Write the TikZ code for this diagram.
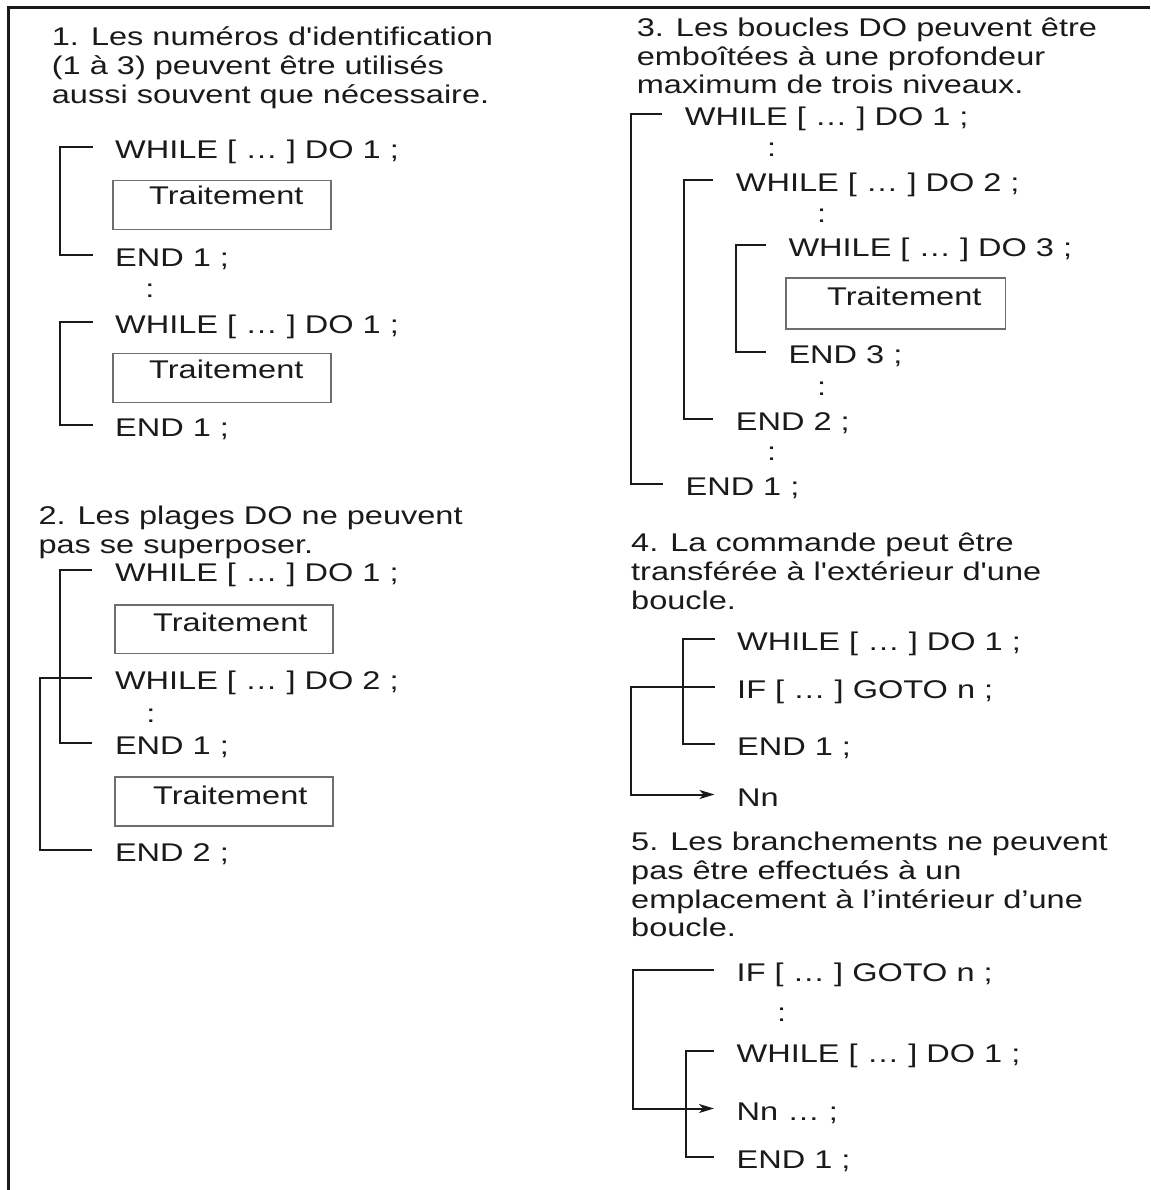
\documentclass[tikz,border=0pt]{standalone}
\usepackage{fontspec}
\setmainfont{Liberation Sans}[FakeStretch=1.27, Ligatures=TeXOff]
\usetikzlibrary{arrows.meta}
\definecolor{ink}{HTML}{1A1A1A}
\definecolor{boxgray}{HTML}{6E6E6E}
\newcommand\fsz{\fontsize{25.6}{28.7}\selectfont}
\tikzset{
  txt/.style={anchor=base west, inner sep=0pt, text=ink, font=\fsz},
  head/.style={txt, align=left},
  colon/.style={anchor=base, inner sep=0pt, text=ink, font=\fsz},
  tbox/.style={draw=boxgray, line width=1.5pt, anchor=north west, inner sep=0pt},
  brk/.style={draw=ink, line width=2pt},
  arr/.style={brk, -{Stealth[length=15pt,width=9pt,inset=4pt]}},
  bk/.style={shift={(-22.5pt,11.5pt)}},
  frame/.style={draw=ink, line width=3pt}
}
\begin{document}
\begin{tikzpicture}[x=1pt,y=-1pt]
\useasboundingbox (0,0) rectangle (1150,1190);
\fill[white] (0,0) rectangle (1150,1190);
\draw[frame] (1150,8) -- (8,8) -- (8,1190);

% ---------- Section 1 (heading anchored at its last baseline)
\node[head] (h1) at (51.7,103.3) {1. Les numéros d'identification\\(1 à 3) peuvent être utilisés\\aussi souvent que nécessaire.};
\node[txt] (s1w1) at (115,158.3) {WHILE [ … ] DO 1 ;};
\node[tbox, minimum width=218pt, minimum height=48.7pt] (s1b1) at (112,180) {};
\node[txt] (s1t1) at (149,205) {Traitement};
\node[txt] (s1e1) at (115,266.7) {END 1 ;};
\node[colon] (s1c1) at (150,297) {:};
\node[txt] (s1w2) at (115,333.3) {WHILE [ … ] DO 1 ;};
\node[tbox, minimum width=218pt, minimum height=49pt] (s1b2) at (112,352.7) {};
\node[txt] (s1t2) at (149,378.3) {Traitement};
\node[txt] (s1e2) at (115,436.7) {END 1 ;};
\draw[brk] ([bk]s1w1.base west) -- ++(-33,0) |- ([bk]s1e1.base west);
\draw[brk] ([bk]s1w2.base west) -- ++(-33,0) |- ([bk]s1e2.base west);

% ---------- Section 2
\node[head] (h2) at (38.3,553.3) {2. Les plages DO ne peuvent\\pas se superposer.};
\node[txt] (s2w1) at (114.8,581.7) {WHILE [ … ] DO 1 ;};
\node[tbox, minimum width=218pt, minimum height=48.7pt] (s2b1) at (114,604) {};
\node[txt] (s2t1) at (153,631.7) {Traitement};
\node[txt] (s2w2) at (114.8,689.3) {WHILE [ … ] DO 2 ;};
\node[colon] (s2c1) at (151,722) {:};
\node[txt] (s2e1) at (114.8,754) {END 1 ;};
\node[tbox, minimum width=218pt, minimum height=49pt] (s2b2) at (114,776) {};
\node[txt] (s2t2) at (153,804.3) {Traitement};
\node[txt] (s2e2) at (114.8,861.7) {END 2 ;};
\draw[brk] ([bk]s2w1.base west) -- ++(-32,0) |- ([bk]s2e1.base west);
\draw[brk] ([bk]s2w2.base west) -- ++(-52.7,0) |- ([bk]s2e2.base west);

% ---------- Section 3
\node[head] (h3) at (636.6,94) {3. Les boucles DO peuvent être\\emboîtées à une profondeur\\maximum de trois niveaux.};
\node[txt] (s3w1) at (684.7,126) {WHILE [ … ] DO 1 ;};
\node[colon] (s3c1) at (771.6,157) {:};
\node[txt] (s3w2) at (735.7,191.7) {WHILE [ … ] DO 2 ;};
\node[colon] (s3c2) at (821.6,223) {:};
\node[txt] (s3w3) at (788.3,256.7) {WHILE [ … ] DO 3 ;};
\node[tbox, minimum width=219.4pt, minimum height=51pt] (s3b1) at (785.3,277.3) {};
\node[txt] (s3t1) at (827,305) {Traitement};
\node[txt] (s3e3) at (788.3,363.3) {END 3 ;};
\node[colon] (s3c3) at (821.6,395) {:};
\node[txt] (s3e2) at (735.7,430) {END 2 ;};
\node[colon] (s3c4) at (771.6,460) {:};
\node[txt] (s3e1) at (685.4,495) {END 1 ;};
\draw[brk] ([bk]s3w1.base west) -- ++(-31,0) |- ([bk]s3e1.base west);
\draw[brk] ([bk]s3w2.base west) -- ++(-29.6,0) |- ([bk]s3e2.base west);
\draw[brk] ([bk]s3w3.base west) -- ++(-29.6,0) |- ([bk]s3e3.base west);

% ---------- Section 4
\node[head] (h4) at (631,609.3) {4. La commande peut être\\transférée à l'extérieur d'une\\boucle.};
\node[txt] (s4w1) at (737,650) {WHILE [ … ] DO 1 ;};
\node[txt] (s4i1) at (737,698.3) {IF [ … ] GOTO n ;};
\node[txt] (s4e1) at (737,755) {END 1 ;};
\node[txt] (s4n) at (737,806) {Nn};
\draw[brk] ([bk]s4w1.base west) -- ++(-32,0) |- ([bk]s4e1.base west);
\draw[arr] ([bk]s4i1.base west) -- ++(-84,0) |- ([bk]s4n.base west);

% ---------- Section 5
\node[head] (h5) at (631,936.7) {5. Les branchements ne peuvent\\pas être effectués à un\\emplacement à l’intérieur d’une\\boucle.};
\node[txt] (s5i1) at (736.5,981.7) {IF [ … ] GOTO n ;};
\node[colon] (s5c1) at (781.6,1021) {:};
\node[txt] (s5w1) at (736.5,1062.7) {WHILE [ … ] DO 1 ;};
\node[txt] (s5n) at (736.5,1120) {Nn … ;};
\node[txt] (s5e1) at (736.5,1168.3) {END 1 ;};
\draw[arr] ([bk]s5i1.base west) -- ++(-81.4,0) |- ([bk]s5n.base west);
\draw[brk] ([bk]s5w1.base west) -- ++(-27.7,0) |- ([bk]s5e1.base west);
\end{tikzpicture}
\end{document}
